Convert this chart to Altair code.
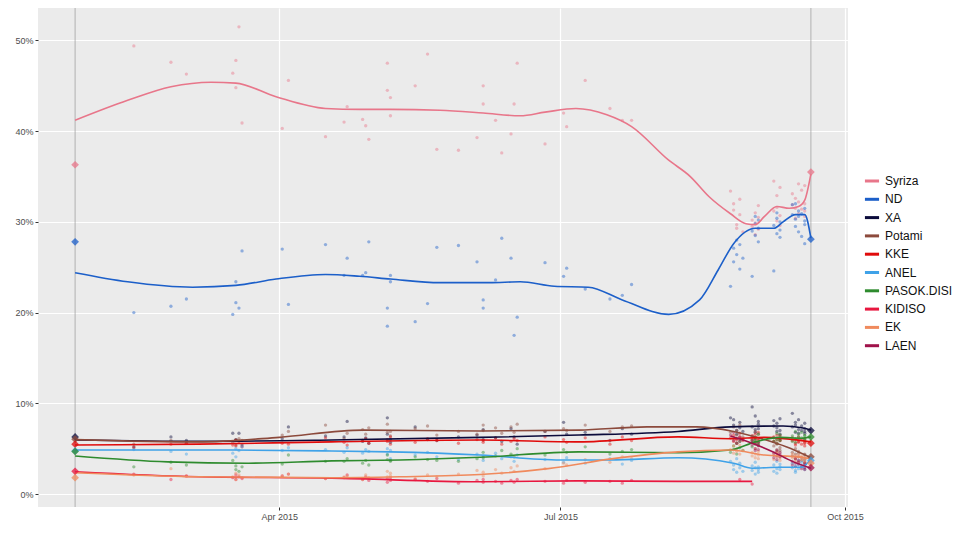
import altair as alt
import pandas as pd

PARTIES = ["Syriza", "ND", "XA", "Potami", "KKE", "ANEL", "PASOK.DISI", "KIDISO", "EK", "LAEN"]
COLOURS = ["#E8768A", "#1C5FC9", "#0B0B3B", "#8C4A3C", "#E00B0B",
           "#3FA2E8", "#2E8B2E", "#E8173F", "#F08A5D", "#A0124A"]

# poll dates: spring/summer polls, then the run-up to the September election
early_dates = [
    "2015-02-13", "2015-02-25", "2015-03-02", "2015-03-17", "2015-03-18", "2015-03-18",
    "2015-03-19", "2015-03-20", "2015-04-02", "2015-04-04", "2015-04-16", "2015-04-22",
    "2015-04-23", "2015-04-28", "2015-04-29", "2015-04-30", "2015-05-06", "2015-05-06",
    "2015-05-07", "2015-05-07", "2015-05-15", "2015-05-19", "2015-05-22", "2015-05-29",
    "2015-06-04", "2015-06-06", "2015-06-06", "2015-06-10", "2015-06-12", "2015-06-15",
    "2015-06-16", "2015-06-17", "2015-06-26", "2015-07-02", "2015-07-03", "2015-07-09",
    "2015-07-17", "2015-07-21", "2015-07-24",
]
late_dates = [
    "2015-08-25", "2015-08-26", "2015-08-26", "2015-08-27", "2015-08-27", "2015-08-28", "2015-08-28", "2015-08-29",
    "2015-09-01", "2015-09-01", "2015-09-02", "2015-09-02", "2015-09-02", "2015-09-03", "2015-09-03", "2015-09-03",
    "2015-09-08", "2015-09-08", "2015-09-09", "2015-09-09", "2015-09-09", "2015-09-10", "2015-09-10", "2015-09-10",
    "2015-09-14", "2015-09-14", "2015-09-15", "2015-09-15", "2015-09-15", "2015-09-16", "2015-09-16", "2015-09-16",
    "2015-09-17", "2015-09-17", "2015-09-18", "2015-09-18", "2015-09-18", "2015-09-18",
]
poll_dates = early_dates + late_dates

syriza = [49.4, 47.6, 46.3, 46.4, 47.8, 44.8, 51.5, 40.9, 40.3, 45.6, 39.4, 41.0, 42.7, 41.3, 40.6, 39.1,
          47.5, 44.5, 43.7, 41.7, 45.0, 48.5, 38.0, 37.9, 39.3, 45.0, 43.0, 41.2, 37.6, 39.7, 43.0, 47.5,
          38.6, 42.0, 40.5, 45.6, 42.5, 41.2, 41.2,
          33.4, 32.0, 31.3, 29.7, 29.3, 30.8, 32.5, 28.9, 29.5, 30.2, 31.0, 28.6, 29.9, 30.5, 31.8, 29.2,
          31.2, 34.5, 32.9, 30.1, 31.6, 33.8, 30.7, 29.6, 31.9, 33.1, 30.4, 32.6, 31.5, 34.2, 30.9, 32.2,
          31.4, 33.5, 32.0, 30.6, 34.0, 31.2]
nd = [20.0, 20.7, 21.5, 19.8, 23.4, 21.1, 20.5, 26.8, 27.0, 20.9, 27.5, 24.1, 26.0, 24.1, 24.4, 27.8,
      20.5, 18.5, 24.1, 23.4, 19.0, 21.0, 27.2, 27.4, 25.6, 21.4, 20.5, 23.6, 28.2, 26.0, 17.5, 19.5,
      25.5, 24.0, 24.9, 22.6, 21.5, 21.9, 23.1,
      22.9, 25.6, 27.1, 26.4, 28.0, 24.8, 27.5, 26.0, 29.0, 24.0, 29.8, 28.5, 30.6, 29.3, 27.8, 30.2,
      29.6, 24.6, 30.4, 28.7, 31.0, 29.1, 30.0, 28.3, 30.8, 31.9, 29.5, 30.3, 32.0, 28.9, 31.2, 30.6,
      30.9, 28.4, 29.7, 31.5, 27.6, 30.1]
xa = [5.2, 6.3, 5.9, 6.7, 5.9, 6.0, 6.7, 5.4, 6.1, 7.4, 6.4, 6.3, 8.0, 5.8, 6.2, 5.6, 6.6, 8.4, 6.0, 5.7,
      7.4, 6.0, 5.9, 6.3, 6.5, 7.1, 6.0, 6.2, 5.8, 7.2, 6.3, 5.5, 6.9, 7.9, 6.6, 6.8, 5.9, 7.2, 6.6,
      8.4, 7.6, 8.2, 7.0, 6.6, 7.9, 7.3, 6.9, 9.6, 7.4, 8.6, 7.1, 6.8, 7.7, 8.0, 7.2,
      7.5, 8.1, 6.9, 7.8, 7.3, 8.3, 7.0, 6.6, 8.9, 7.4, 7.9, 6.8, 7.6, 8.2, 7.1, 6.7,
      7.5, 7.0, 7.8, 6.7, 7.2, 6.9]
potami = [5.5, 5.9, 5.6, 5.7, 6.0, 5.4, 6.1, 5.9, 6.5, 6.9, 7.6, 6.1, 6.7, 7.1, 6.6, 7.3, 6.8, 7.7, 6.4, 6.9,
          7.2, 7.5, 6.5, 6.9, 6.6, 7.6, 7.0, 7.3, 6.7, 7.4, 6.8, 7.7, 6.9, 7.2, 7.0, 7.6, 6.9, 7.4, 7.5,
          6.8, 7.4, 6.2, 7.0, 6.5, 6.0, 7.6, 6.3, 6.4, 5.7, 6.9, 5.9, 6.1, 5.4, 6.6, 5.6,
          5.3, 5.8, 4.9, 5.5, 4.7, 5.1, 5.9, 4.8, 4.6, 4.2, 5.0, 4.4, 3.9, 4.7, 4.1, 4.5,
          4.0, 3.7, 4.3, 3.8, 4.4, 3.5]
kke = [5.1, 5.5, 5.6, 5.4, 5.9, 5.3, 5.8, 5.2, 5.6, 5.5, 6.2, 5.7, 5.4, 5.9, 6.1, 5.6, 5.8, 6.0, 5.5, 6.3,
       5.7, 6.1, 5.9, 5.6, 6.0, 5.7, 5.9, 6.2, 5.5, 5.8, 6.1, 5.9, 6.3, 6.0, 5.7, 6.2, 5.5, 6.3, 5.9,
       6.2, 5.8, 6.5, 6.0, 5.6, 6.3, 6.7, 5.9, 6.4, 6.0, 5.7, 6.6, 6.2, 5.9, 6.8, 6.1,
       6.3, 5.8, 6.5, 6.0, 5.6, 6.4, 6.1, 5.9, 5.9, 6.2, 5.6, 6.0, 5.4, 6.3, 5.8, 5.7,
       5.5, 6.0, 5.7, 5.3, 6.1, 5.6]
anel = [4.9, 4.7, 4.4, 4.5, 4.1, 5.0, 4.8, 5.2, 4.8, 5.1, 4.9, 4.6, 5.1, 4.5, 4.9, 4.7, 5.0, 4.4, 3.9, 4.8,
        4.3, 4.6, 4.1, 3.8, 4.4, 4.2, 3.7, 4.5, 3.9, 4.1, 3.6, 4.3, 3.8, 3.5, 4.0, 3.4, 3.9, 3.3, 3.7,
        3.6, 2.7, 3.2, 2.4, 3.9, 2.9, 3.4, 2.5, 2.6, 3.1, 2.2, 2.9, 3.5, 2.4, 3.0, 2.7,
        3.2, 2.5, 2.8, 3.6, 2.3, 3.0, 2.7, 3.3, 2.9, 3.4, 2.6, 3.1, 2.4, 3.7, 2.8, 3.2,
        3.0, 3.5, 2.7, 3.3, 3.8, 2.9]
pasok = [3.0, 3.5, 3.2, 3.7, 2.7, 3.1, 2.5, 3.0, 3.3, 4.3, 3.6, 3.6, 3.9, 3.4, 3.7, 3.2, 4.3, 3.8, 3.6, 3.7,
         4.1, 3.8, 3.7, 3.6, 3.9, 4.0, 4.6, 4.2, 4.8, 4.4, 4.1, 5.0, 4.3, 4.9, 4.6, 5.2, 4.4, 4.7, 4.9,
         4.6, 5.3, 4.9, 5.6, 4.4, 5.1, 5.8, 4.8, 5.9, 5.2, 6.3, 5.5, 6.0, 5.7, 6.6, 5.4,
         6.2, 5.8, 6.7, 6.0, 5.6, 6.5, 6.1, 5.9, 6.4, 5.8, 6.9, 6.1, 5.7, 6.6, 6.0, 6.3,
         6.2, 6.8, 5.9, 6.5, 6.0, 6.4]
kidiso = [2.2, 1.6, 2.0, 1.8, 2.1, 1.6, 1.9, 1.7, 2.0, 2.2, 1.7, 1.8, 2.1, 1.6, 1.9, 1.5, 1.7, 1.3, 1.5, 1.8,
          1.6, 1.4, 1.7, 1.2, 1.5, 1.3, 1.6, 1.4, 1.2, 1.5, 1.3, 1.6, 1.4, 1.2, 1.5, 1.3, 1.4, 1.2, 1.5,
          None, None, None, None, None, 1.6, None, None, 1.1, None, None, None, None, None, None, None,
          None, None, None, None, None, None, None, None, None, None, None, None, None, None, None, None,
          None, None, None, None, None, None]
ek = [2.1, 2.8, 2.0, 1.9, 2.3, 1.6, 2.1, 1.8, 2.0, 2.2, 1.7, 1.9, 2.0, 1.6, 2.1, 1.8, 2.5, 1.9, 2.0, 2.3,
      1.7, 2.1, 1.9, 2.2, 2.6, 2.0, 2.4, 2.7, 2.3, 2.9, 2.5, 3.1, 2.8, 3.4, 3.2, 3.8, 3.5, 4.1, 3.9,
      4.9, 5.3, 4.5, 5.0, 4.7, 5.4, 4.4, 4.8, 4.6, 4.2, 5.0, 4.4, 4.0, 4.7, 4.3, 3.9,
      4.3, 3.8, 4.6, 4.1, 4.5, 3.7, 4.2, 4.0, 4.0, 4.4, 3.6, 4.2, 3.9, 4.3, 3.5, 4.1,
      3.8, 4.2, 3.5, 4.0, 3.7, 3.9]
laen = [None] * len(early_dates) + [
    6.5, 5.9, 6.8, 6.1, 5.6, 6.3, 5.8, 6.0, 5.4, 5.9, 5.0, 5.6, 4.8, 5.3, 5.7, 4.9,
    4.5, 4.0, 4.8, 4.2, 3.8, 4.6, 4.1, 4.4, 3.6, 3.2, 3.9, 3.4, 3.0, 3.7, 3.3, 3.5,
    3.1, 2.8, 3.4, 2.9, 3.2, 2.7]

# election results (diamonds)
election_dates = ["2015-01-25", "2015-09-20"]
result_jan = [36.3, 27.8, 6.3, 6.05, 5.5, 4.75, 4.7, 2.5, 1.8, None]
result_sep = [35.5, 28.1, 7.0, 4.1, 5.6, 3.7, 6.3, None, 3.4, 2.9]

# smoothed trends
syriza_trend_dates = ["2015-01-25", "2015-02-11", "2015-02-25", "2015-03-10", "2015-03-18", "2015-03-31",
                      "2015-04-16", "2015-04-27", "2015-05-07", "2015-05-23", "2015-06-06", "2015-06-18",
                      "2015-06-26", "2015-07-06", "2015-07-16", "2015-07-24", "2015-08-05", "2015-08-12",
                      "2015-08-18", "2015-08-25", "2015-08-30", "2015-09-02", "2015-09-05", "2015-09-09",
                      "2015-09-13", "2015-09-16", "2015-09-18", "2015-09-20"]
syriza_trend = [41.2, 43.4, 44.9, 45.4, 45.3, 43.8, 42.5, 42.4, 42.4, 42.3, 42.0, 41.7, 42.1, 42.5,
                41.8, 40.5, 36.8, 35.0, 32.8, 30.9, 29.8, 29.7, 30.6, 31.7, 31.5, 31.7, 32.4, 35.3]
nd_trend_dates = ["2015-01-25", "2015-02-11", "2015-03-04", "2015-03-18", "2015-03-31", "2015-04-16",
                  "2015-04-27", "2015-05-07", "2015-05-23", "2015-06-08", "2015-06-18", "2015-06-29",
                  "2015-07-10", "2015-07-21", "2015-08-05", "2015-08-15", "2015-08-21", "2015-08-26",
                  "2015-09-02", "2015-09-08", "2015-09-11", "2015-09-15", "2015-09-18", "2015-09-20"]
nd_trend = [24.4, 23.4, 22.8, 23.0, 23.7, 24.2, 24.0, 23.7, 23.3, 23.3, 23.4, 22.9,
            22.8, 21.4, 19.8, 21.4, 24.7, 27.6, 29.3, 29.3, 30.0, 30.8, 30.8, 28.2]
xa_trend_dates = ["2015-01-25", "2015-03-06", "2015-04-18", "2015-06-05", "2015-07-07", "2015-08-08",
                  "2015-08-25", "2015-09-11", "2015-09-17", "2015-09-20"]
xa_trend = [5.95, 5.8, 5.95, 6.25, 6.5, 6.9, 7.4, 7.5, 7.3, 7.05]
potami_trend_dates = ["2015-01-25", "2015-03-06", "2015-04-01", "2015-04-28", "2015-06-05", "2015-07-07",
                      "2015-07-29", "2015-08-14", "2015-08-26", "2015-09-05", "2015-09-12", "2015-09-20"]
potami_trend = [6.0, 5.75, 6.25, 7.05, 6.95, 7.05, 7.4, 7.4, 6.9, 6.0, 5.2, 4.0]
kke_trend_dates = ["2015-01-25", "2015-03-06", "2015-04-18", "2015-06-05", "2015-07-07", "2015-08-08",
                   "2015-08-25", "2015-09-05", "2015-09-20"]
kke_trend = [5.4, 5.5, 5.75, 5.95, 5.75, 6.3, 6.1, 6.25, 5.75]
anel_trend_dates = ["2015-01-25", "2015-03-17", "2015-04-18", "2015-05-07", "2015-06-05", "2015-07-01",
                    "2015-07-17", "2015-08-08", "2015-08-26", "2015-09-01", "2015-09-10", "2015-09-17",
                    "2015-09-20"]
anel_trend = [4.85, 4.85, 4.75, 4.65, 4.3, 3.75, 3.75, 4.0, 3.4, 2.85, 2.95, 2.95, 3.9]
pasok_trend_dates = ["2015-01-25", "2015-02-24", "2015-03-22", "2015-04-18", "2015-05-10", "2015-06-05",
                     "2015-07-07", "2015-08-08", "2015-08-25", "2015-09-02", "2015-09-10", "2015-09-17",
                     "2015-09-20"]
pasok_trend = [4.2, 3.55, 3.4, 3.65, 3.75, 4.05, 4.65, 4.55, 4.85, 5.75, 6.25, 6.15, 6.3]
kidiso_trend_dates = ["2015-01-25", "2015-03-06", "2015-04-18", "2015-06-05", "2015-07-07", "2015-08-08",
                      "2015-09-01"]
kidiso_trend = [2.45, 1.9, 1.75, 1.35, 1.45, 1.4, 1.4]
ek_trend_dates = ["2015-01-25", "2015-03-06", "2015-04-18", "2015-05-10", "2015-06-05", "2015-06-27",
                  "2015-07-18", "2015-08-08", "2015-08-25", "2015-09-05", "2015-09-16", "2015-09-20"]
ek_trend = [2.35, 1.9, 1.8, 1.9, 2.15, 2.8, 3.9, 4.65, 4.85, 4.3, 4.1, 3.9]
laen_trend_dates = ["2015-08-25", "2015-09-01", "2015-09-08", "2015-09-14", "2015-09-20"]
laen_trend = [6.4, 5.6, 4.6, 3.6, 2.85]

poll_values = [syriza, nd, xa, potami, kke, anel, pasok, kidiso, ek, laen]
trend_dates = [syriza_trend_dates, nd_trend_dates, xa_trend_dates, potami_trend_dates, kke_trend_dates,
               anel_trend_dates, pasok_trend_dates, kidiso_trend_dates, ek_trend_dates, laen_trend_dates]
trend_values = [syriza_trend, nd_trend, xa_trend, potami_trend, kke_trend,
                anel_trend, pasok_trend, kidiso_trend, ek_trend, laen_trend]

poll_rows, trend_rows, result_rows = [], [], []
for party, values, t_dates, t_values, r_jan, r_sep in zip(
    PARTIES, poll_values, trend_dates, trend_values, result_jan, result_sep, strict=True
):
    for d, v in zip(poll_dates, values, strict=True):
        if v is not None:
            poll_rows.append({"date": d, "party": party, "share": v})
    for d, v in zip(t_dates, t_values, strict=True):
        trend_rows.append({"date": d, "party": party, "share": v})
    for d, v in zip(election_dates, [r_jan, r_sep]):
        if v is not None:
            result_rows.append({"date": d, "party": party, "share": v})

polls = pd.DataFrame(poll_rows)
trends = pd.DataFrame(trend_rows)
results = pd.DataFrame(result_rows)
elections = pd.DataFrame({"date": election_dates})

FONT = "Liberation Sans"

x_enc = alt.X(
    "date:T",
    title=None,
    scale=alt.Scale(
        type="utc",
        domain=[alt.DateTime(year=2015, month=1, date=13, utc=True),
                alt.DateTime(year=2015, month=10, date=2, utc=True)],
    ),
    axis=alt.Axis(
        values=[alt.DateTime(year=2015, month=4, date=1, utc=True),
                alt.DateTime(year=2015, month=7, date=1, utc=True),
                alt.DateTime(year=2015, month=10, date=1, utc=True)],
        labelExpr="utcFormat(datum.value, '%b %Y')",
    ),
)
y_enc = alt.Y(
    "share:Q",
    title=None,
    scale=alt.Scale(domain=[-1.43, 53.58], nice=False, zero=False),
    axis=alt.Axis(values=[0, 10, 20, 30, 40, 50], labelExpr="datum.value + '%'"),
)
colour_scale = alt.Scale(domain=PARTIES, range=COLOURS)
legend = alt.Legend(
    title=None,
    orient="none",
    legendX=825,
    legendY=164,
    symbolType="stroke",
    symbolStrokeWidth=3,
    symbolSize=200,
    symbolOpacity=1,
    labelFontSize=12,
    labelFont=FONT,
    labelColor="#111111",
    rowPadding=3.3,
    padding=0,
)
colour = alt.Color("party:N", scale=colour_scale, sort=PARTIES, legend=legend)

rules = alt.Chart(elections).mark_rule(color="#9A9A9A", strokeWidth=0.7).encode(x=x_enc)

dots = alt.Chart(polls).mark_circle(size=11, opacity=0.45).encode(x=x_enc, y=y_enc, color=colour)

lines = alt.Chart(trends).mark_line(interpolate="monotone", strokeWidth=1.6).encode(
    x=x_enc, y=y_enc, detail="party:N", color=colour
)

diamonds = alt.Chart(results).mark_point(shape="diamond", filled=True, size=60, opacity=0.75).encode(
    x=x_enc, y=y_enc, color=colour
)

chart = (
    alt.layer(rules, dots, lines, diamonds)
    .properties(
        width=810,
        height=499,
        autosize=alt.AutoSizeParams(type="none"),
        padding={"left": 30, "top": 0, "right": 104, "bottom": 19},
    )
    .configure_view(fill="#EBEBEB", stroke=None)
    .configure_axis(
        grid=True,
        gridColor="#FFFFFF",
        gridWidth=1.2,
        domain=False,
        tickColor="#333333",
        tickSize=3,
        labelColor="#4D4D4D",
        labelFontSize=9,
        labelFont=FONT,
        labelPadding=2,
    )
)

chart.save("out.html", embed_options={"renderer": "svg", "actions": False})
